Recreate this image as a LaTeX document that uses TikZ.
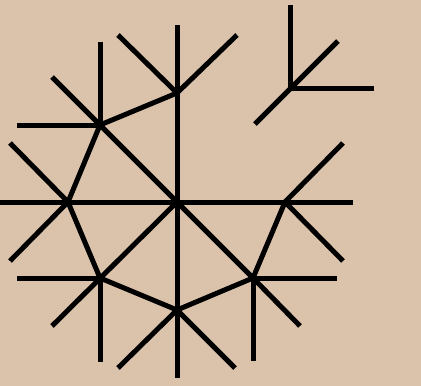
\documentclass[tikz,border=0pt]{standalone}
\usetikzlibrary{calc}
\definecolor{sand}{RGB}{219,195,171}

\begin{document}
\begin{tikzpicture}[
    x=1pt, y=-1pt,
    stick/.style={line width=5pt, line cap=butt, draw=black}
]
\fill[sand] (0,0) rectangle (421,386);
\useasboundingbox (0,0) rectangle (421,386);

% junctions
\coordinate (c) at (177,202);
\coordinate (a) at (100,125);
\coordinate (b) at (177,93);
\coordinate (l) at (68,202);
\coordinate (r) at (285,202);
\coordinate (ll) at (100,278);
\coordinate (bt) at (177,310);
\coordinate (lr) at (253,278);
\coordinate (y) at (290,88);

% ring
\draw[stick, line join=round] (b) -- (a) -- (l) -- (ll) -- (bt) -- (lr) -- (r);

% long lines through the centre
\draw[stick] (b) ++(0,-68) -- (bt) -- ++(0,68);
\draw[stick] (l) ++(-68,0) -- (r) -- ++(68,0);
\draw[stick] (a) ++(-48,-48) -- (lr) -- ++(47,48);
\draw[stick] (ll) ++(-48,48) -- (c);

% branches
\draw[stick] (a) -- ++(0,-83);
\draw[stick] (a) -- ++(-83,0);
\draw[stick] (b) -- ++(-59,-58);
\draw[stick] (b) -- ++(60,-58);
\draw[stick] (l) -- ++(-58,-59);
\draw[stick] (l) -- ++(-58,59);
\draw[stick] (ll) -- ++(-83,0);
\draw[stick] (ll) -- ++(0,84);
\draw[stick] (bt) -- ++(-59,58);
\draw[stick] (bt) -- ++(58,58);
\draw[stick] (lr) -- ++(84,0);
\draw[stick] (lr) -- ++(0,83);
\draw[stick] (r) -- ++(58,-59);
\draw[stick] (r) -- ++(58,59);

% lone fork
\draw[stick] (y) -- ++(0,-83);
\draw[stick] (y) -- ++(84,0);
\draw[stick] (y) ++(-35,36) -- ++(83,-83);
\end{tikzpicture}
\end{document}
